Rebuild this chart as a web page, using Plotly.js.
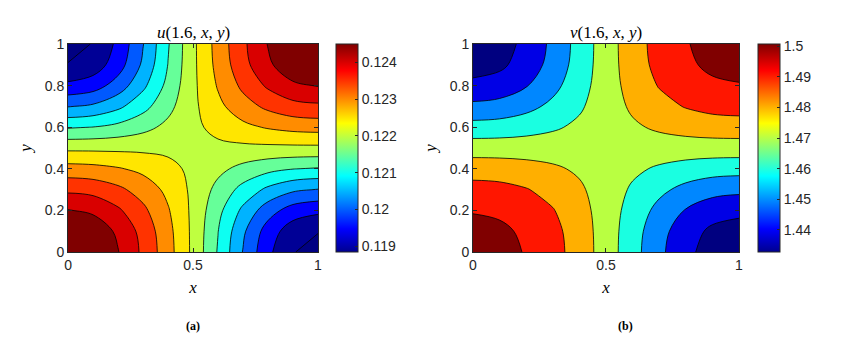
<!DOCTYPE html>
<html>
<head>
<meta charset="utf-8">
<script src="https://cdn.plot.ly/plotly-3.0.1.min.js"></script>
<style>
  html, body { margin: 0; padding: 0; background: #fff; }
  #fig { width: 843px; height: 339px; }
</style>
</head>
<body>
<div id="fig"></div>
<script>
// grid nodes (same for x and y)
var xs = [0, 0.1, 0.2, 0.3, 0.4, 0.5, 0.6, 0.7, 0.8, 0.9, 1];
var ys = [0, 0.1, 0.2, 0.3, 0.4, 0.5, 0.6, 0.7, 0.8, 0.9, 1];

// u(1.6,x,y), rows = y
var uGrid = [
  [0.12455, 0.12439, 0.12397, 0.12341, 0.12278, 0.12205, 0.12121, 0.12033, 0.11955, 0.11902, 0.11884],
  [0.12439, 0.12425, 0.12387, 0.12335, 0.12274, 0.12205, 0.12126, 0.12043, 0.11969, 0.11920, 0.11902],
  [0.12397, 0.12387, 0.12357, 0.12315, 0.12264, 0.12205, 0.12138, 0.12070, 0.12010, 0.11969, 0.11955],
  [0.12341, 0.12335, 0.12315, 0.12286, 0.12249, 0.12205, 0.12157, 0.12110, 0.12070, 0.12043, 0.12033],
  [0.12278, 0.12274, 0.12264, 0.12249, 0.12228, 0.12205, 0.12181, 0.12157, 0.12138, 0.12126, 0.12121],
  [0.12205, 0.12205, 0.12205, 0.12205, 0.12205, 0.12205, 0.12205, 0.12205, 0.12205, 0.12205, 0.12205],
  [0.12121, 0.12126, 0.12138, 0.12157, 0.12181, 0.12205, 0.12228, 0.12249, 0.12264, 0.12274, 0.12278],
  [0.12033, 0.12043, 0.12070, 0.12110, 0.12157, 0.12205, 0.12249, 0.12286, 0.12315, 0.12335, 0.12341],
  [0.11955, 0.11969, 0.12010, 0.12070, 0.12138, 0.12205, 0.12264, 0.12315, 0.12357, 0.12387, 0.12397],
  [0.11902, 0.11920, 0.11969, 0.12043, 0.12126, 0.12205, 0.12274, 0.12335, 0.12387, 0.12425, 0.12439],
  [0.11884, 0.11902, 0.11955, 0.12033, 0.12121, 0.12205, 0.12278, 0.12341, 0.12397, 0.12439, 0.12455]
];

// v(1.6,x,y), rows = y
var vGrid = [
  [1.50080, 1.49975, 1.49650, 1.49094, 1.48304, 1.47313, 1.46200, 1.45092, 1.44140, 1.43497, 1.43270],
  [1.49975, 1.49871, 1.49555, 1.49017, 1.48259, 1.47313, 1.46257, 1.45211, 1.44315, 1.43711, 1.43497],
  [1.49650, 1.49555, 1.49269, 1.48788, 1.48124, 1.47313, 1.46422, 1.45550, 1.44811, 1.44315, 1.44140],
  [1.49094, 1.49017, 1.48788, 1.48413, 1.47910, 1.47313, 1.46674, 1.46061, 1.45550, 1.45211, 1.45092],
  [1.48304, 1.48259, 1.48124, 1.47910, 1.47632, 1.47313, 1.46982, 1.46674, 1.46422, 1.46257, 1.46200],
  [1.47313, 1.47313, 1.47313, 1.47313, 1.47313, 1.47313, 1.47313, 1.47313, 1.47313, 1.47313, 1.47313],
  [1.46200, 1.46257, 1.46422, 1.46674, 1.46982, 1.47313, 1.47632, 1.47910, 1.48124, 1.48259, 1.48304],
  [1.45092, 1.45211, 1.45550, 1.46061, 1.46674, 1.47313, 1.47910, 1.48413, 1.48788, 1.49017, 1.49094],
  [1.44140, 1.44315, 1.44811, 1.45550, 1.46422, 1.47313, 1.48124, 1.48788, 1.49269, 1.49555, 1.49650],
  [1.43497, 1.43711, 1.44315, 1.45211, 1.46257, 1.47313, 1.48259, 1.49017, 1.49555, 1.49871, 1.49975],
  [1.43270, 1.43497, 1.44140, 1.45092, 1.46200, 1.47313, 1.48304, 1.49094, 1.49650, 1.49975, 1.50080]
];

// contour levels and colorbar limits
var uLevels = {start: 0.119, end: 0.12395, size: 0.00045};
var vLevels = {start: 1.439, end: 1.49702, size: 0.00967};
var uRange = [0.11884, 0.1245];
var vRange = [1.4327, 1.5008];
var uTicks = [0.119, 0.12, 0.121, 0.122, 0.123, 0.124];
var uTickText = ['0.119', '0.12', '0.121', '0.122', '0.123', '0.124'];
var vTicks = [1.44, 1.45, 1.46, 1.47, 1.48, 1.49, 1.5];
var vTickText = ['1.44', '1.45', '1.46', '1.47', '1.48', '1.49', '1.5'];

// matlab jet, continuous (for colorbars)
var jet = [
  [0, 'rgb(0,0,143)'], [0.111, 'rgb(0,0,255)'], [0.365, 'rgb(0,255,255)'],
  [0.619, 'rgb(255,255,0)'], [0.873, 'rgb(255,0,0)'], [1, 'rgb(128,0,0)']
];

// fill colour of each band, lowest band first
var uBands = ['rgb(0,0,130)', 'rgb(0,0,150)', 'rgb(0,0,255)', 'rgb(0,89,255)', 'rgb(0,179,255)',
  'rgb(13,255,242)', 'rgb(102,255,153)', 'rgb(191,255,64)', 'rgb(255,230,0)', 'rgb(255,140,0)',
  'rgb(255,51,0)', 'rgb(217,0,0)', 'rgb(128,0,0)'];
var vBands = ['rgb(0,0,128)', 'rgb(0,0,230)', 'rgb(0,135,255)', 'rgb(26,255,225)',
  'rgb(185,255,65)', 'rgb(255,175,0)', 'rgb(255,22,0)', 'rgb(128,0,0)'];

function bandScale(cols) {
  var n = cols.length - 1;
  return cols.map(function (c, k) { return [k / n, c]; });
}

var tickFont = {family: 'Liberation Sans, Arial, sans-serif', size: 14, color: '#262626'};
var mathFont = {family: 'Liberation Serif, Times New Roman, serif', size: 17, color: '#000'};
var capFont = {family: 'Liberation Serif, Times New Roman, serif', size: 12, color: '#000'};

function cbar(x, vals, txt) {
  return {
    x: x, xanchor: 'left', xref: 'paper', xpad: 0,
    y: 0.5634, yanchor: 'middle', ypad: 0,
    len: 0.6136, lenmode: 'fraction',
    thickness: 22, thicknessmode: 'pixels',
    outlinewidth: 1, outlinecolor: '#262626',
    ticks: 'inside', ticklen: 3, tickcolor: '#262626',
    tickvals: vals, ticktext: txt, tickfont: tickFont
  };
}

var data = [
  {type: 'heatmap', x: xs, y: ys, z: uGrid, zmin: uRange[0], zmax: uRange[1],
   colorscale: jet, showscale: true, colorbar: cbar(0.3986, uTicks, uTickText),
   hoverinfo: 'skip', xaxis: 'x', yaxis: 'y'},
  {type: 'contour', x: xs, y: ys, z: uGrid, autocontour: false, contours: {
     start: uLevels.start, end: uLevels.end, size: uLevels.size, coloring: 'fill', showlines: true},
   line: {color: '#000', width: 0.8, smoothing: 1},
   colorscale: bandScale(uBands), showscale: false, hoverinfo: 'skip', xaxis: 'x', yaxis: 'y'},
  {type: 'heatmap', x: xs, y: ys, z: vGrid, zmin: vRange[0], zmax: vRange[1],
   colorscale: jet, showscale: true, colorbar: cbar(0.8992, vTicks, vTickText),
   hoverinfo: 'skip', xaxis: 'x2', yaxis: 'y2'},
  {type: 'contour', x: xs, y: ys, z: vGrid, autocontour: false, contours: {
     start: vLevels.start, end: vLevels.end, size: vLevels.size, coloring: 'fill', showlines: true},
   line: {color: '#000', width: 0.8, smoothing: 1},
   colorscale: bandScale(vBands), showscale: false, hoverinfo: 'skip', xaxis: 'x2', yaxis: 'y2'}
];

function xax(dom, anchor) {
  return {
    domain: dom, anchor: anchor, range: [0, 1],
    tickvals: [0, 0.5, 1], ticktext: ['0', '0.5', '1'],
    ticks: 'inside', ticklen: 4, tickcolor: '#262626',
    showline: true, linecolor: '#262626', linewidth: 1, mirror: 'ticks',
    showgrid: false, zeroline: false, tickfont: tickFont,
    title: {text: '<i>x</i>', font: mathFont, standoff: 9}
  };
}
function yax(anchor) {
  return {
    domain: [0.2566, 0.870], anchor: anchor, range: [0, 1], dtick: 0.2,
    ticks: 'inside', ticklen: 4, tickcolor: '#262626',
    showline: true, linecolor: '#262626', linewidth: 1, mirror: 'ticks',
    showgrid: false, zeroline: false, tickfont: tickFont,
    title: {text: '<i>y</i>', font: mathFont, standoff: 8}
  };
}

var layout = {
  width: 843, height: 339,
  margin: {l: 0, r: 0, t: 0, b: 0},
  paper_bgcolor: '#fff', plot_bgcolor: '#fff',
  showlegend: false,
  xaxis: xax([0.0807, 0.3772], 'y'),
  yaxis: yax('x'),
  xaxis2: xax([0.5611, 0.8766], 'y2'),
  yaxis2: yax('x2'),
  annotations: [
    {text: '<i>u</i>(1.6, <i>x</i>, <i>y</i>)', x: 0.229, y: 0.9027, xref: 'paper', yref: 'paper',
     xanchor: 'center', yanchor: 'middle', showarrow: false, font: mathFont},
    {text: '<i>v</i>(1.6, <i>x</i>, <i>y</i>)', x: 0.7189, y: 0.9027, xref: 'paper', yref: 'paper',
     xanchor: 'center', yanchor: 'middle', showarrow: false, font: mathFont},
    {text: '<b>(a)</b>', x: 0.229, y: 0.038, xref: 'paper', yref: 'paper',
     xanchor: 'center', yanchor: 'middle', showarrow: false, font: capFont},
    {text: '<b>(b)</b>', x: 0.7414, y: 0.038, xref: 'paper', yref: 'paper',
     xanchor: 'center', yanchor: 'middle', showarrow: false, font: capFont}
  ]
};

Plotly.newPlot('fig', data, layout, {displayModeBar: false, staticPlot: true});
</script>
</body>
</html>
